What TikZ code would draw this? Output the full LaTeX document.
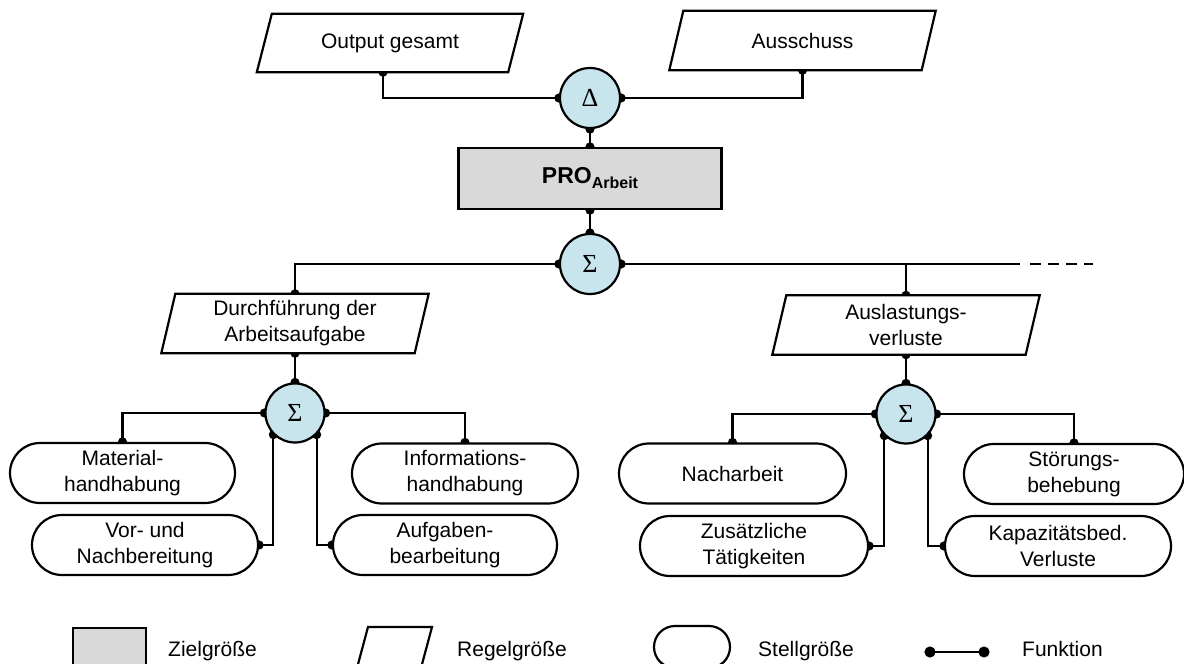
\documentclass[tikz,border=0pt]{standalone}
\usepackage{fontspec}
\setmainfont{Liberation Sans}
\newfontfamily\opfont{Liberation Serif}
\usetikzlibrary{shapes.misc,arrows.meta,calc}
\pgfdeclarelayer{wires}
\pgfdeclarelayer{frames}
\pgfsetlayers{wires,frames,main}

\definecolor{sumblue}{RGB}{200,228,236}
\definecolor{goalgray}{RGB}{217,217,217}

\tikzset{
  lbl/.style={font=\fontsize{21}{26}\selectfont, align=center, inner sep=0pt},
  stell/.style={lbl, rounded rectangle, draw, line width=2.2pt, fill=white,
                minimum height=60pt, minimum width=#1},
  regel/.style={lbl, rectangle, minimum height=59pt, minimum width=#1},
  frame/.style={draw, line width=2.2pt, fill=white, line join=miter},
  op/.style={circle, draw, line width=2.2pt, fill=sumblue, minimum size=60pt,
             inner sep=0pt, font=\opfont\fontsize{26}{26}\selectfont},
  wire/.style={line width=2.2pt, {Circle[length=9pt]}-{Circle[length=9pt]},
               shorten <=-4.5pt, shorten >=-4.5pt},
  plain/.style={line width=2.2pt},
}

% parallelogram outline around a text node (half slant in pt)
\newcommand\parframe[2][7]{%
  \begin{pgfonlayer}{frames}
    \draw[frame] ([xshift=-#1pt]#2.south west) -- ([xshift=-#1pt]#2.south east)
      -- ([xshift=#1pt]#2.north east) -- ([xshift=#1pt]#2.north west) -- cycle;
  \end{pgfonlayer}}

\begin{document}
\begin{tikzpicture}[x=1pt,y=-1pt]
\useasboundingbox (0,0) rectangle (1184,664);
\clip (0,0) rectangle (1184,664);

% top level
\node[regel=251pt, minimum height=58pt] (og) at (390,43) {Output gesamt};
\node[regel=252pt] (aus) at (802.5,40.5) {Ausschuss};
\parframe[7.5]{og}
\parframe[7]{aus}
\node[op] (delta) at (590,98) {Δ};
\node[draw, fill=goalgray, line width=2.2pt, minimum width=263pt,
      minimum height=61pt, inner sep=0pt] (pro) at (590,178.5)
  {\fontsize{23}{23}\selectfont\bfseries PRO\raisebox{-5pt}{\fontsize{16}{16}\selectfont Arbeit}};
\node[op] (sigtop) at (590,264) {Σ};

% left branch
\node[regel=253pt] (dfa) at (295,323.5) {Durchführung der\\Arbeitsaufgabe};
\parframe[7]{dfa}
\node[op, minimum size=59pt] (sigL) at (295,413) {Σ};
\node[stell=225pt] (mat) at (122.5,473) {Material-\\handhabung};
\node[stell=226pt] (vor) at (145,545) {Vor- und\\Nachbereitung};
\node[stell=226pt] (info) at (465,473.5) {Informations-\\handhabung};
\node[stell=224pt] (aufg) at (445,545) {Aufgaben-\\bearbeitung};

% right branch
\node[regel=253pt] (alv) at (906,325) {Auslastungs-\\verluste};
\parframe[7]{alv}
\node[op, minimum size=59pt] (sigR) at (906,414) {Σ};
\node[stell=227pt] (nach) at (732.5,473.5) {Nacharbeit};
\node[stell=228pt] (zus) at (754,546) {Zusätzliche\\Tätigkeiten};
\node[stell=220pt] (stoer) at (1074,474) {Störungs-\\behebung};
\node[stell=226pt] (kap) at (1058,546) {Kapazitätsbed.\\Verluste};

% continuation of the top bus
\coordinate (busend) at (1020,264);
\coordinate (dashA) at (1030,264);
\coordinate (dashB) at (1093,264);

\begin{pgfonlayer}{wires}
  \draw[wire] ([xshift=-7pt]og.south) |- (delta.west);
  \draw[wire] (aus.south) |- (delta.east);
  \draw[wire] (delta.south) -- (pro.north);
  \draw[wire] (pro.south) -- (sigtop.north);
  \draw[wire] (sigtop.west) -| (dfa.north);
  \draw[wire] (sigtop.east) -| (alv.north);
  \draw[plain] (sigtop.east) -- (busend);
  \draw[plain, dash pattern=on 10.5pt off 7.5pt] (dashA) -- (dashB);

  \draw[wire] (dfa.south) -- (sigL.north);
  \draw[wire] (sigL.west) -| (mat.north);
  \draw[wire] (sigL.east) -| (info.north);
  \draw[wire] (sigL.-135) |- (vor.east);
  \draw[wire] (sigL.-45) |- (aufg.west);

  \draw[wire] (alv.south) -- (sigR.north);
  \draw[wire] (sigR.west) -| (nach.north);
  \draw[wire] (sigR.east) -| (stoer.north);
  \draw[wire] (sigR.-135) |- (zus.east);
  \draw[wire] (sigR.-45) |- (kap.west);
\end{pgfonlayer}

% legend
\node[draw, fill=goalgray, line width=2.2pt, minimum width=73pt,
      minimum height=42pt, inner sep=0pt] (lgoal) at (109.5,649) {};
\node[lbl, anchor=base west] (tgoal) at (168,656) {Zielgröße};
\draw[frame] (357,668) -- (421,668) -- (432,627) -- (368,627) -- cycle;
\node[lbl, anchor=base west] (tregel) at (457,656) {Regelgröße};
\node[draw, rounded rectangle, line width=2.2pt, minimum width=76pt,
      minimum height=42pt, inner sep=0pt] (lstell) at (692,647) {};
\node[lbl, anchor=base west] (tstell) at (758,656) {Stellgröße};
\coordinate (fa) at (930,652);
\coordinate (fb) at (984,652);
\draw[line width=2.2pt, {Circle[length=11pt]}-{Circle[length=11pt]},
      shorten <=-5.5pt, shorten >=-5.5pt] (fa) -- (fb);
\node[lbl, anchor=base west] (tfunk) at (1022,656) {Funktion};
\end{tikzpicture}
\end{document}
